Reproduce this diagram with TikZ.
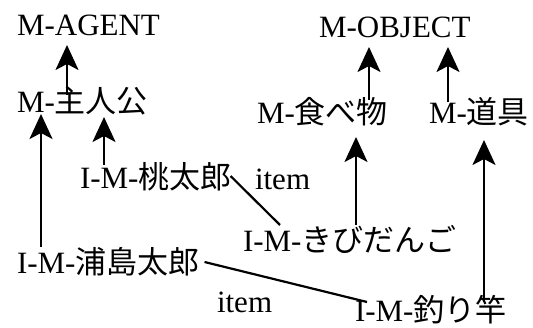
\documentclass[tikz,border=0pt]{standalone}
\usepackage{fontspec}
\setmainfont{Liberation Serif}
\newfontfamily\jp{Noto Sans CJK JP}
\usetikzlibrary{arrows.meta}
\newcommand{\jt}[1]{{\jp #1}}
\begin{document}
\begin{tikzpicture}[x=1pt,y=-1pt,
  lbl/.style={anchor=base west, inner sep=0pt, outer sep=0pt,
    text height=22pt, text depth=6pt, font=\fontsize{31}{37}\selectfont},
  arr/.style={line width=2.2pt, -{Stealth[length=25pt,width=23pt,inset=6pt]}},
  link/.style={line width=2.2pt}]
\useasboundingbox (0,0) rectangle (533,328);
\clip (0,0) rectangle (533,328);
\node[lbl] (agent) at (17,36) {M-AGENT};
\node[lbl] (object) at (319,38) {M-OBJECT};
\node[lbl] (shujin) at (17,113) {M-\jt{主人公}};
\node[lbl] (tabe) at (257,124) {M-\jt{食べ物}};
\node[lbl] (dogu) at (429,124) {M-\jt{道具}};
\node[lbl] (momo) at (80,189) {I-M-\jt{桃太郎}};
\node[lbl] (item1) at (255,190) {item};
\node[lbl] (kibi) at (243,252) {I-M-\jt{きびだんご}};
\node[lbl] (urashima) at (17,274) {I-M-\jt{浦島太郎}};
\node[lbl] (item2) at (217,313) {item};
\node[lbl] (tsuri) at (355,322) {I-M-\jt{釣り竿}};
% is-a arrows
\draw[arr] ([xshift=50pt,yshift=-4pt]shujin.north west) -- ([xshift=50pt,yshift=-3pt]agent.south west);
\draw[arr] ([xshift=24pt,yshift=5pt]urashima.north west) -- ([xshift=24pt,yshift=5pt]urashima.north west |- shujin.south);
\draw[arr] ([xshift=24pt,yshift=2pt]momo.north west) -- ([xshift=24pt,yshift=2pt]momo.north west |- shujin.south);
\draw[arr] ([xshift=112pt,yshift=2pt]tabe.north west) -- ([xshift=112pt,yshift=-3pt]tabe.north west |- object.south);
\draw[arr] ([xshift=19pt]dogu.north west) -- ([xshift=19pt,yshift=-3pt]dogu.north west |- object.south);
\draw[arr] ([xshift=113pt,yshift=5pt]kibi.north west) -- ([xshift=113pt,yshift=-7pt]kibi.north west |- tabe.south);
\draw[arr] ([xshift=129pt,yshift=-2pt]tsuri.north west) -- ([xshift=129pt,yshift=-10pt]tsuri.north west |- dogu.south);
% item links
\draw[link] ([xshift=-1pt,yshift=5pt]momo.east) -- ([xshift=37pt,yshift=5pt]kibi.north west);
\draw[link] ([xshift=5pt,yshift=4pt]urashima.east) -- ([xshift=12pt,yshift=-2pt]tsuri.north west);
\end{tikzpicture}
\end{document}
